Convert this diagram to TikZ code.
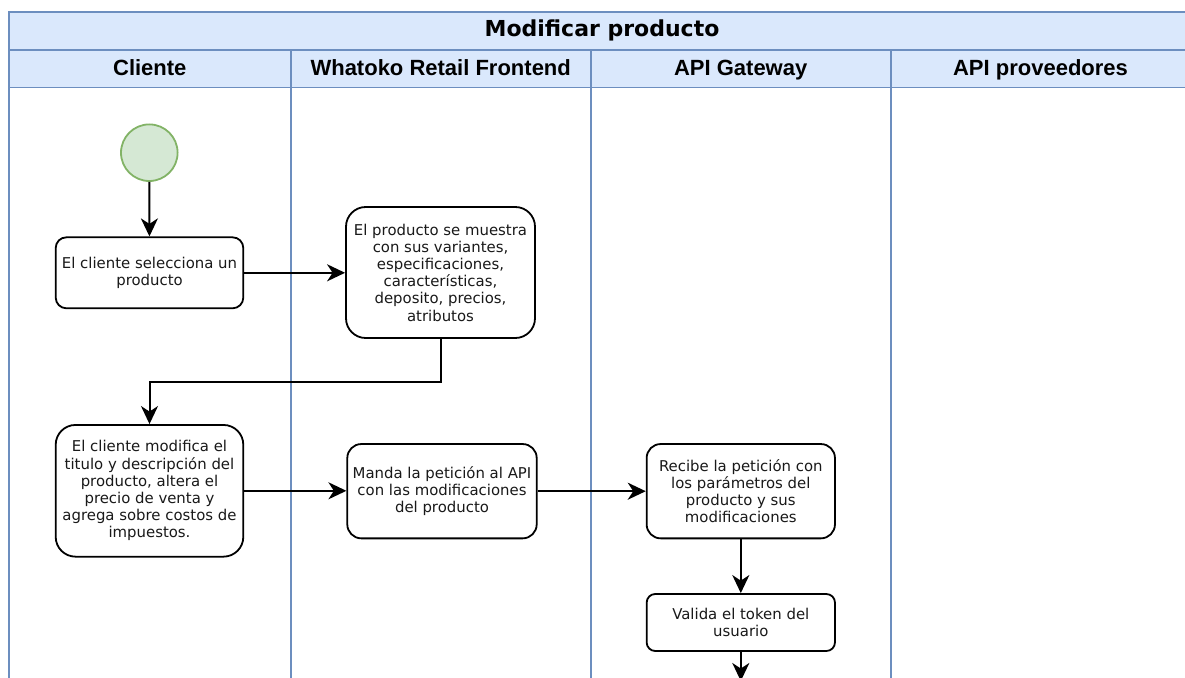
\documentclass[tikz,border=0pt]{standalone}
\usepackage{fontspec}
\setmainfont{DejaVu Sans}
\newfontfamily\hdrfont{Liberation Sans}
\usetikzlibrary{arrows.meta,calc}

\definecolor{lanefill}{HTML}{DAE8FC}
\definecolor{lanedraw}{HTML}{6C8EBF}
\definecolor{startfill}{HTML}{D5E8D4}
\definecolor{startdraw}{HTML}{82B366}

\tikzset{
  lane/.style={draw=lanedraw, line width=1.6pt},
  title/.style={font=\fontsize{22}{26}\selectfont\bfseries, inner sep=0pt, anchor=base},
  header/.style={font=\hdrfont\fontsize{22}{26}\selectfont\bfseries, inner sep=0pt, anchor=base},
  act/.style={draw=black, line width=1.8pt, fill=white, align=center, inner sep=0pt,
    font=\fontsize{14.9}{17.2}\selectfont, text=black!90},
  startnode/.style={circle, draw=startdraw, fill=startfill, line width=1.8pt,
    minimum size=56.6pt, inner sep=0pt},
  flow/.style={draw=black, line width=2pt,
    -{Stealth[length=18pt, width=17pt, inset=5.5pt]}},
}

\begin{document}
\begin{tikzpicture}[x=1pt, y=-1pt]
\useasboundingbox (0,0) rectangle (1185,677);
\clip (0,0) rectangle (1185,677);

% pool title band and lane header band
\fill[lanefill] (9,12.3) rectangle (1195,87.3);
\draw[lane] (9,12.3) rectangle (1195,50);
\foreach \xa/\xb in {9/290.7, 290.7/590.7, 590.7/890.7, 890.7/1195} {
  \draw[lane] (\xa,50) rectangle (\xb,87.3);
  \draw[lane] (\xa,87.3) rectangle (\xb,700);
}

\node[title] (pool) at (602,36.7) {Modificar producto};
\node[header] (hcli) at (149.8,75) {Cliente};
\node[header] (hfront) at (440.7,75) {Whatoko Retail Frontend};
\node[header] (hgw) at (740.7,75) {API Gateway};
\node[header] (hprov) at (1040.5,75) {API proveedores};

% activities
\node[startnode] (start) at (149.3,152.7) {};
\node[act, rounded corners=10.7pt, minimum width=187.6pt, minimum height=71pt]
  (b1) at (149.5,272.8) {El cliente selecciona un\\producto};
\node[act, rounded corners=19.7pt, minimum width=189pt, minimum height=131pt]
  (b2) at (440.5,272.5) {El producto se muestra\\con sus variantes,\\especificaciones,\\características,\\deposito, precios,\\atributos};
\node[act, rounded corners=19.8pt, minimum width=187.6pt, minimum height=131.7pt]
  (b3) at (149.5,490.8) {El cliente modifica el\\titulo y descripción del\\producto, altera el\\precio de venta y\\agrega sobre costos de\\impuestos.};
\node[act, rounded corners=14pt, minimum width=189.4pt, minimum height=94.3pt]
  (b4) at (442,491.2) {Manda la petición al API\\con las modificaciones\\del producto};
\node[act, rounded corners=14pt, minimum width=188.3pt, minimum height=94.3pt]
  (b5) at (740.8,491.2) {Recibe la petición con\\los parámetros del\\producto y sus\\modificaciones};
\node[act, rounded corners=8.6pt, minimum width=188.3pt, minimum height=57pt]
  (b6) at (740.8,622.5) {Valida el token del\\usuario};
\coordinate (next) at (740.8,681);

% control flow
\draw[flow] (start) -- (b1);
\draw[flow] (b1.east) -- (b1.east -| b2.west);
\draw[flow] (b2.south) -- ([yshift=-43pt]b2.south) -| (b3.north);
\draw[flow] (b3.east) -- (b3.east -| b4.west);
\draw[flow] (b4.east) -- (b4.east -| b5.west);
\draw[flow] (b5.south) -- (b6.north);
\draw[flow] (b6.south) -- (next);
\end{tikzpicture}
\end{document}
